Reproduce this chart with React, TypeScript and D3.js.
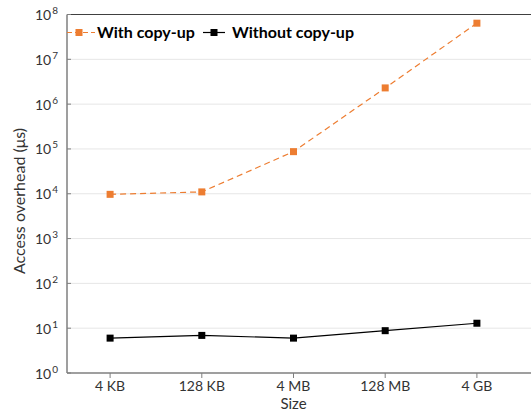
import React, { useEffect, useRef } from 'react';
import * as d3 from 'd3';

const sizes = ['4 KB', '128 KB', '4 MB', '128 MB', '4 GB'];
const withCopyUp = [9.7e3, 1.1e4, 8.7e4, 2.3e6, 6.4e7];
const withoutCopyUp = [6.0, 6.9, 6.0, 8.8, 12.9];
const yExponents = [0, 1, 2, 3, 4, 5, 6, 7, 8];

const W = 531;
const H = 414;
const FONT = 'Lato, "Open Sans", sans-serif';
const ORANGE = '#ED7D31';
const TEXT = '#333';

export default function App() {
  const ref = useRef<SVGSVGElement>(null);

  useEffect(() => {
    const svg = d3.select(ref.current);
    svg.selectAll('*').remove();

    const left = 67, right = 520, top = 14.5, bottom = 373;

    /* Scales */
    const x = d3.scalePoint<string>().domain(sizes).range([left, right]).padding(0.47);
    const y = d3.scaleLog().domain([1, 1e8]).range([bottom, top]);

    // gridlines
    svg.append('g')
      .selectAll('line')
      .data(yExponents.slice(1, -1))
      .enter().append('line')
      .attr('x1', left).attr('x2', W)
      .attr('y1', d => y(Math.pow(10, d))).attr('y2', d => y(Math.pow(10, d)))
      .attr('stroke', '#e6e6e6').attr('stroke-width', 1);

    // top border
    svg.append('line')
      .attr('x1', left).attr('x2', W).attr('y1', top).attr('y2', top)
      .attr('stroke', '#404040').attr('stroke-width', 1.2);

    /* Y axis */
    const yAxis = svg.append('g');
    yAxis.append('line')
      .attr('x1', left).attr('x2', left).attr('y1', top).attr('y2', bottom)
      .attr('stroke', '#7f7f7f').attr('stroke-width', 1.5);
    yAxis.selectAll('line.tick')
      .data(yExponents)
      .enter().append('line')
      .attr('class', 'tick')
      .attr('x1', left).attr('x2', left + 4)
      .attr('y1', d => y(Math.pow(10, d))).attr('y2', d => y(Math.pow(10, d)))
      .attr('stroke', '#7f7f7f').attr('stroke-width', 1);
    const yLabels = yAxis.selectAll('text.lbl')
      .data(yExponents)
      .enter().append('text')
      .attr('class', 'lbl')
      .attr('x', 35)
      .attr('y', d => y(Math.pow(10, d)) + 5.5)
      .attr('font-family', FONT).attr('font-size', 14).attr('fill', TEXT);
    yLabels.append('tspan').text('10');
    yLabels.append('tspan').attr('dx', 1).attr('dy', -6).attr('font-size', 10).text(d => String(d));

    yAxis.append('text')
      .attr('transform', `translate(25, 201) rotate(-90)`)
      .attr('text-anchor', 'middle')
      .attr('font-family', FONT).attr('font-size', 16).attr('fill', TEXT)
      .text('Access overhead (μs)');

    /* X axis */
    const xAxis = svg.append('g');
    xAxis.append('line')
      .attr('x1', left).attr('x2', W).attr('y1', bottom).attr('y2', bottom)
      .attr('stroke', '#7f7f7f').attr('stroke-width', 1.5);
    xAxis.selectAll('line.tick')
      .data(sizes)
      .enter().append('line')
      .attr('class', 'tick')
      .attr('x1', d => x(d)!).attr('x2', d => x(d)!)
      .attr('y1', bottom).attr('y2', bottom + 5)
      .attr('stroke', '#7f7f7f');
    xAxis.selectAll('text.lbl')
      .data(sizes)
      .enter().append('text')
      .attr('class', 'lbl')
      .attr('x', d => x(d)!).attr('y', bottom + 18)
      .attr('text-anchor', 'middle')
      .attr('font-family', FONT).attr('font-size', 14).attr('fill', TEXT)
      .text(d => d);
    xAxis.append('text')
      .attr('x', x(sizes[2])!).attr('y', 409)
      .attr('text-anchor', 'middle')
      .attr('font-family', FONT).attr('font-size', 15).attr('fill', TEXT)
      .text('Size');

    /* Lines */
    const line = d3.line<number>()
      .x((_, i) => x(sizes[i])!)
      .y(d => y(d));

    svg.append('path')
      .attr('d', line(withCopyUp))
      .attr('fill', 'none').attr('stroke', ORANGE).attr('stroke-width', 1.2)
      .attr('stroke-dasharray', '6,4');
    svg.append('path')
      .attr('d', line(withoutCopyUp))
      .attr('fill', 'none').attr('stroke', '#000').attr('stroke-width', 1.2);

    svg.append('g').selectAll('rect')
      .data(withCopyUp)
      .enter().append('rect')
      .attr('x', (_, i) => x(sizes[i])! - 3.5).attr('y', d => y(d) - 3.5)
      .attr('width', 7).attr('height', 7).attr('fill', ORANGE);
    svg.append('g').selectAll('rect')
      .data(withoutCopyUp)
      .enter().append('rect')
      .attr('x', (_, i) => x(sizes[i])! - 3.5).attr('y', d => y(d) - 3.5)
      .attr('width', 7).attr('height', 7).attr('fill', '#000');

    /* Legend */
    const lg = svg.append('g').attr('font-family', FONT).attr('font-size', 16).attr('font-weight', 'bold');
    const ly = 32.5;
    lg.append('line').attr('x1', 67).attr('x2', 95).attr('y1', ly).attr('y2', ly)
      .attr('stroke', ORANGE).attr('stroke-width', 1.2).attr('stroke-dasharray', '5,3');
    lg.append('rect').attr('x', 79 - 3.5).attr('y', ly - 3.5).attr('width', 7).attr('height', 7).attr('fill', ORANGE);
    lg.append('text').attr('x', 97).attr('y', ly + 5.5).attr('fill', '#000').text('With copy-up');
    lg.append('line').attr('x1', 203).attr('x2', 225).attr('y1', ly).attr('y2', ly)
      .attr('stroke', '#000').attr('stroke-width', 1.2);
    lg.append('rect').attr('x', 214 - 3.5).attr('y', ly - 3.5).attr('width', 7).attr('height', 7).attr('fill', '#000');
    lg.append('text').attr('x', 232).attr('y', ly + 5.5).attr('fill', '#000').text('Without copy-up');
  }, []);

  return (
    <svg ref={ref} width={W} height={H}
      style={{ position: 'absolute', left: 0, top: 0, background: '#fff' }} />
  );
}
